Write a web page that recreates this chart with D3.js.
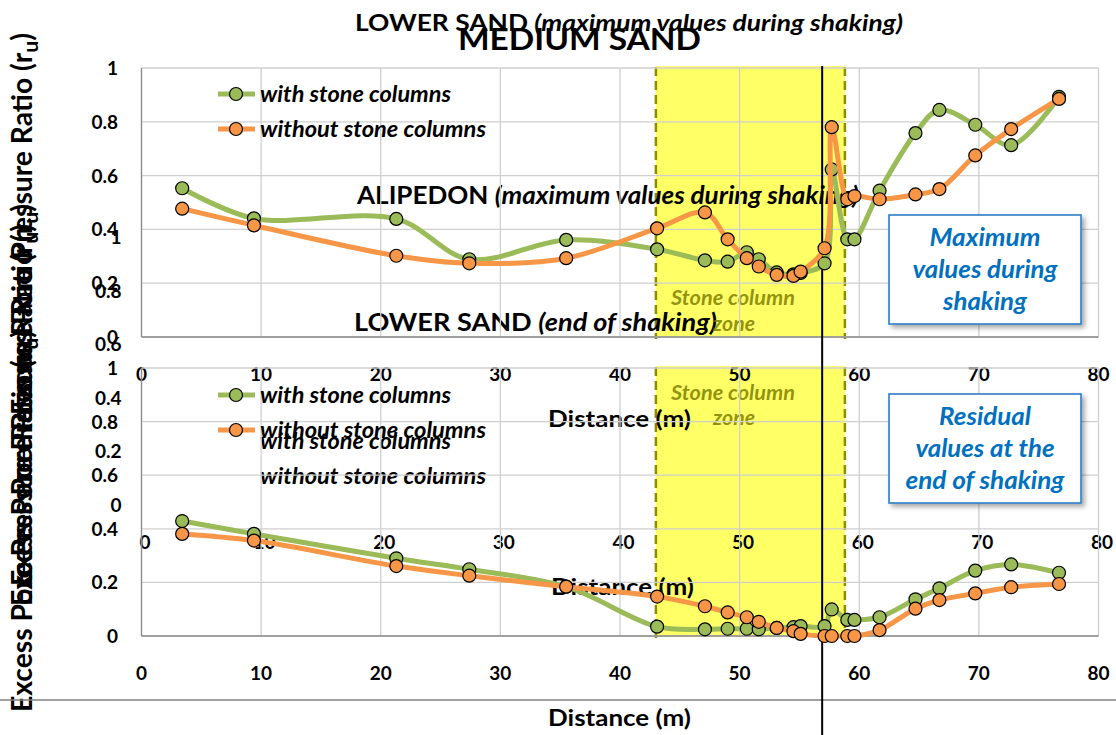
<!DOCTYPE html>
<html><head><meta charset="utf-8">
<script src="https://cdn.jsdelivr.net/npm/d3@7"></script>
<style>
body{margin:0;background:#fff}
svg{display:block}
text{font-family:Lato,"Open Sans",sans-serif;font-weight:bold}
</style>
</head><body>
<svg id="c" width="1116" height="735"></svg>
<script>
// ---------- data ----------
const distance = [3.4, 9.4, 21.3, 27.4, 35.5, 43.1, 47.1, 49.0, 50.6, 51.6, 53.1, 54.5, 55.1, 57.1, 57.7, 59.0, 59.6, 61.7, 64.7, 66.7, 69.7, 72.7, 76.7];
const maxWith    = [0.553, 0.441, 0.439, 0.289, 0.361, 0.326, 0.285, 0.280, 0.315, 0.289, 0.240, 0.233, 0.238, 0.274, 0.623, 0.363, 0.363, 0.544, 0.758, 0.844, 0.789, 0.713, 0.893];
const maxWithout = [0.477, 0.415, 0.302, 0.274, 0.293, 0.404, 0.463, 0.363, 0.293, 0.262, 0.231, 0.227, 0.243, 0.330, 0.780, 0.512, 0.524, 0.512, 0.530, 0.550, 0.675, 0.773, 0.885];
const resWith    = [0.429, 0.381, 0.290, 0.249, 0.184, 0.035, 0.025, 0.027, 0.027, 0.025, 0.030, 0.033, 0.037, 0.037, 0.099, 0.060, 0.060, 0.070, 0.137, 0.178, 0.244, 0.267, 0.236];
const resWithout = [0.381, 0.356, 0.261, 0.225, 0.184, 0.147, 0.111, 0.088, 0.070, 0.053, 0.030, 0.018, 0.008, 0.000, 0.000, 0.000, 0.000, 0.022, 0.102, 0.134, 0.159, 0.182, 0.194];
const xTicks = [0, 10, 20, 30, 40, 50, 60, 70, 80];
const yTicks = [0, 0.2, 0.4, 0.6, 0.8, 1];
const seriesNames = ["with stone columns", "without stone columns"];
const seriesColors = ["#9BBB59", "#F79646"];
const zoneStart = 43, zoneEnd = 58.8, centerLine = 56.9;
const zoneLabel = ["Stone column", "zone"];
const boxMax = ["Maximum", "values during", "shaking"];
const boxRes = ["Residual", "values at the", "end of shaking"];
const boxMaxW = [111, 145, 84];
const boxResW = [92, 139, 159];
const xTitle = "Distance  (m)";

// ---------- scales ----------
const svg = d3.select("#c");
const xA = d3.scaleLinear().domain([0, 80]).range([141.5, 1098.5]);
const xB = d3.scaleLinear().domain([0, 80]).range([145, 1102]);
const yA = d3.scaleLinear().domain([0, 1]).range([337, 68]);
const yB = d3.scaleLinear().domain([0, 1]).range([505, 237]);
const yC = d3.scaleLinear().domain([0, 1]).range([636, 368]);
const fmt = d => d3.format("~g")(d);
const TICK = 19;

const defs = svg.append("defs");
const f = defs.append("filter").attr("id", "sh").attr("x", "-10%").attr("y", "-10%").attr("width", "130%").attr("height", "140%");
f.append("feDropShadow").attr("dx", 3).attr("dy", 3).attr("stdDeviation", 2.5).attr("flood-color", "#000").attr("flood-opacity", 0.35);

function fit(sel, w) { sel.attr("textLength", w).attr("lengthAdjust", "spacingAndGlyphs"); return sel; }

// ---------- yellow stone-column bands ----------
function band(y) {
  const g = svg.append("g");
  g.append("rect").attr("x", xA(zoneStart)).attr("width", xA(zoneEnd) - xA(zoneStart))
    .attr("y", y(1) - 2).attr("height", y(0) - y(1) + 3).attr("fill", "#FFFF66");
  [zoneStart, zoneEnd].forEach(v => g.append("line").attr("x1", xA(v)).attr("x2", xA(v))
    .attr("y1", y(1) - 1).attr("y2", y(0) + 2).attr("stroke", "#8C8C00").attr("stroke-width", 2.5)
    .attr("stroke-dasharray", "9,5"));
}
band(yA); band(yC);

// ---------- hidden chart B (ALIPEDON) texts ----------
const gB = svg.append("g");
gB.selectAll(null).data(yTicks).join("text").attr("x", 121.5).attr("y", d => yB(d) + 7)
  .attr("text-anchor", "end").attr("font-size", TICK).text(fmt);
gB.selectAll(null).data(xTicks).join("text").attr("x", d => xB(d)).attr("y", 549)
  .attr("text-anchor", "middle").attr("font-size", TICK).text(fmt);
fit(gB.append("text").attr("x", 551).attr("y", 595).attr("font-size", 22).text(xTitle), 143);
seriesNames.forEach((s, i) => fit(gB.append("text").attr("x", 260).attr("y", 449 + i * 35)
  .attr("font-size", 22).attr("font-style", "italic").text(s), i ? 226 : 191));
{
  const t = svg.append("text").attr("x", 357).attr("y", 204).attr("font-size", 24);
  t.append("tspan").text("ALIPEDON ");
  t.append("tspan").attr("font-style", "italic").text("(maximum values during shaking)");
  fit(t, 502);
}

// ---------- titles ----------
{
  const t = svg.append("text").attr("x", 355).attr("y", 31).attr("font-size", 23);
  t.append("tspan").text("LOWER  SAND ");
  t.append("tspan").attr("font-style", "italic").text("(maximum values during shaking)");
  fit(t, 548);
  fit(svg.append("text").attr("x", 458).attr("y", 50).attr("font-size", 31).text("MEDIUM  SAND"), 243);
  const t2 = svg.append("text").attr("x", 354).attr("y", 331).attr("font-size", 24);
  t2.append("tspan").text("LOWER  SAND  ");
  t2.append("tspan").attr("font-style", "italic").text("(end of shaking)");
  fit(t2, 363);
}

// ---------- stone column labels ----------
[[305, 331], [400, 425]].forEach(([a, b]) => {
  fit(svg.append("text").attr("x", 733).attr("y", a).attr("text-anchor", "middle").attr("font-size", 21)
    .attr("font-style", "italic").attr("fill", "#808000").attr("fill-opacity", 0.85).text(zoneLabel[0]), 124);
  fit(svg.append("text").attr("x", 734).attr("y", b).attr("text-anchor", "middle").attr("font-size", 21)
    .attr("font-style", "italic").attr("fill", "#808000").attr("fill-opacity", 0.85).text(zoneLabel[1]), 42);
});

// ---------- y axis titles ----------
[224, 395, 415, 521].forEach(cy => {
  const t = svg.append("text").attr("transform", `translate(32,${cy}) rotate(-90)`)
    .attr("text-anchor", "middle").attr("font-size", 28);
  t.append("tspan").text("Excess Pore Pressure Ratio (r");
  t.append("tspan").attr("font-size", 21).attr("dy", 6).text("u");
  t.append("tspan").attr("dy", -6).text(")");
  fit(t, 382);
});

// ---------- grids and axes for charts A and C ----------
function frame(y) {
  const g = svg.append("g");
  g.selectAll(null).data(xTicks).join("line").attr("x1", d => xA(d)).attr("x2", d => xA(d))
    .attr("y1", y(1)).attr("y2", y(0)).attr("stroke", "#CFCFCF").attr("stroke-width", 1.3);
  g.selectAll(null).data(yTicks).join("line").attr("x1", xA(0)).attr("x2", xA(80))
    .attr("y1", d => y(d)).attr("y2", d => y(d)).attr("stroke", "#CFCFCF").attr("stroke-width", 1.3);
  g.append("line").attr("x1", xA(0)).attr("x2", xA(0)).attr("y1", y(1)).attr("y2", y(0)).attr("stroke", "#8C8C8C").attr("stroke-width", 1.3);
  g.append("line").attr("x1", xA(0)).attr("x2", xA(80)).attr("y1", y(0)).attr("y2", y(0)).attr("stroke", "#8C8C8C").attr("stroke-width", 1.3);
  g.selectAll(null).data(yTicks).join("text").attr("x", 118).attr("y", d => y(d) + 7)
    .attr("text-anchor", "end").attr("font-size", TICK).text(fmt);
  g.selectAll(null).data(xTicks).join("text").attr("x", d => xA(d)).attr("y", y(0) + 44)
    .attr("text-anchor", "middle").attr("font-size", TICK).text(fmt);
  fit(g.append("text").attr("x", 548).attr("y", y(0) + 90).attr("font-size", 22).text(xTitle), 143);
}
frame(yA); frame(yC);

// horizontal rule near bottom
svg.append("line").attr("x1", 0).attr("x2", 1116).attr("y1", 700).attr("y2", 700).attr("stroke", "#7F7F7F").attr("stroke-width", 1.5);

// centre line
svg.append("line").attr("x1", xA(centerLine)).attr("x2", xA(centerLine)).attr("y1", 66).attr("y2", 735)
  .attr("stroke", "#000").attr("stroke-width", 2);

// ---------- series ----------
function series(y, vals, color) {
  const g = svg.append("g");
  const line = d3.line().x((d, i) => xA(distance[i])).y(d => y(d)).curve(d3.curveCatmullRom.alpha(0.5));
  g.append("path").datum(vals).attr("d", line).attr("fill", "none").attr("stroke", color)
    .attr("stroke-width", 5).attr("stroke-linejoin", "round").attr("stroke-linecap", "round");
  g.selectAll(null).data(vals).join("circle").attr("cx", (d, i) => xA(distance[i])).attr("cy", d => y(d))
    .attr("r", 6.5).attr("fill", color).attr("stroke", "#000").attr("stroke-width", 1.2);
}
series(yA, maxWith, seriesColors[0]);
series(yA, maxWithout, seriesColors[1]);
series(yC, resWith, seriesColors[0]);
series(yC, resWithout, seriesColors[1]);

// ---------- legends ----------
function legend(y0) {
  seriesNames.forEach((s, i) => {
    const y = y0 + i * 35;
    svg.append("line").attr("x1", 218).attr("x2", 255).attr("y1", y).attr("y2", y)
      .attr("stroke", seriesColors[i]).attr("stroke-width", 5);
    svg.append("circle").attr("cx", 236).attr("cy", y).attr("r", 6.5).attr("fill", seriesColors[i])
      .attr("stroke", "#000").attr("stroke-width", 1.2);
    fit(svg.append("text").attr("x", 260).attr("y", y + 8).attr("font-size", 22).attr("font-style", "italic").text(s), i ? 226 : 191);
  });
}
legend(94); legend(395);

// ---------- annotation boxes ----------
function box(y0, lines, widths) {
  svg.append("rect").attr("x", 889).attr("y", y0).attr("width", 192).attr("height", 109)
    .attr("fill", "#fff").attr("stroke", "#2E7EC6").attr("stroke-width", 1.6).attr("filter", "url(#sh)");
  lines.forEach((l, i) => fit(svg.append("text").attr("x", 985).attr("y", y0 + 31 + i * 32)
    .attr("text-anchor", "middle").attr("font-size", 24).attr("font-style", "italic").attr("fill", "#0070C0").text(l), widths[i]));
}
box(215, boxMax, boxMaxW); box(394, boxRes, boxResW);
</script>
</body></html>
